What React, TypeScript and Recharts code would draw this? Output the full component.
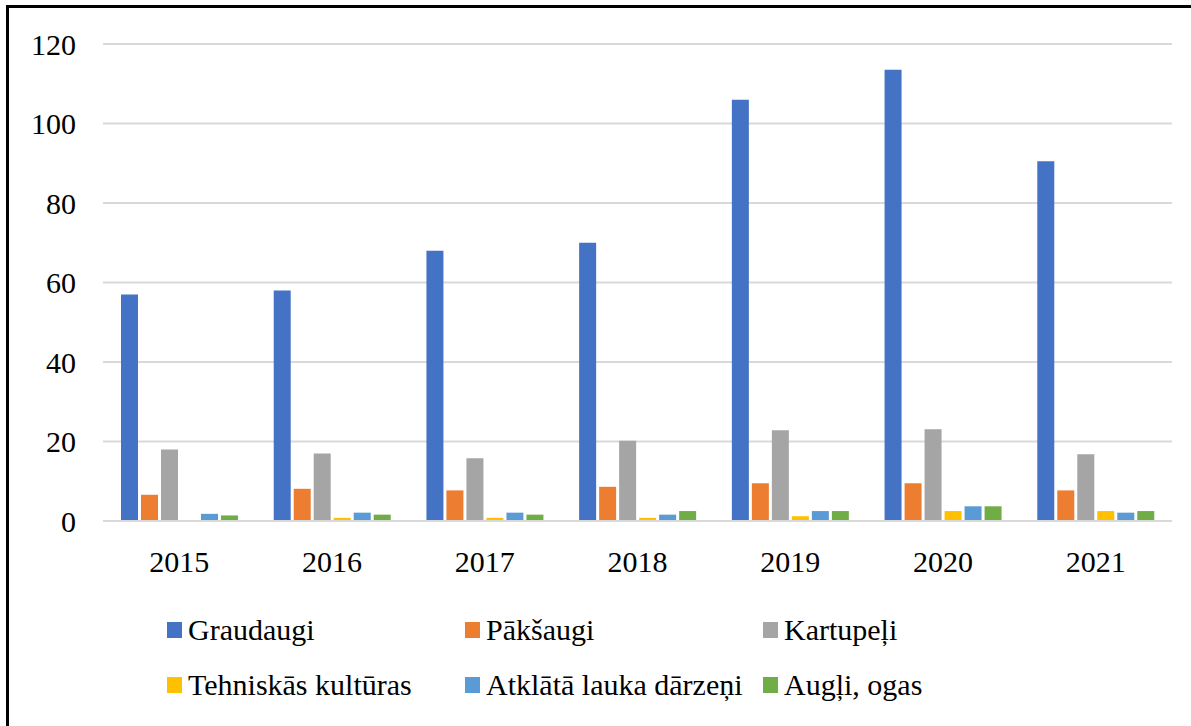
import React from 'react';
import { BarChart, Bar, XAxis, YAxis, CartesianGrid, Legend } from 'recharts';

// years on the x axis
const years = ['2015', '2016', '2017', '2018', '2019', '2020', '2021'];

// series values
const graudaugi = [57, 58, 68, 70, 106, 113.5, 90.5];
const paksaugi = [6.6, 8.1, 7.7, 8.6, 9.5, 9.5, 7.7];
const kartupeli = [18, 17, 15.8, 20.2, 22.8, 23.1, 16.8];
const tehniskas = [0, 0.8, 0.8, 0.8, 1.2, 2.5, 2.5];
const darzeni = [1.8, 2.1, 2.1, 1.6, 2.5, 3.7, 2.1];
const augli = [1.4, 1.6, 1.6, 2.5, 2.5, 3.7, 2.5];

const yTicks = [0, 20, 40, 60, 80, 100, 120];

const series = [
  { key: 'g', name: 'Graudaugi', color: '#4472C4', values: graudaugi },
  { key: 'p', name: 'Pākšaugi', color: '#ED7D31', values: paksaugi },
  { key: 'k', name: 'Kartupeļi', color: '#A5A5A5', values: kartupeli },
  { key: 't', name: 'Tehniskās kultūras', color: '#FFC000', values: tehniskas },
  { key: 'd', name: 'Atklātā lauka dārzeņi', color: '#5B9BD5', values: darzeni },
  { key: 'a', name: 'Augļi, ogas', color: '#70AD47', values: augli },
];

const data = years.map((year, i) => {
  const row: Record<string, string | number> = { year };
  series.forEach(s => {
    row[s.key] = s.values[i];
  });
  return row;
});

const font = 'Liberation Serif, DejaVu Serif';

function LegendGrid() {
  return (
    <div
      style={{
        display: 'grid',
        gridTemplateColumns: '298px 298px 298px',
        gridAutoRows: '55px',
        fontFamily: font,
        fontSize: 30,
        color: '#000',
      }}
    >
      {series.map(s => (
        <div key={s.key} style={{ display: 'flex', alignItems: 'center', whiteSpace: 'nowrap' }}>
          <span
            style={{ display: 'inline-block', width: 15, height: 16, background: s.color, marginRight: 6 }}
          />
          <span>{s.name}</span>
        </div>
      ))}
    </div>
  );
}

export default function App() {
  return (
    <div
      style={{
        position: 'absolute',
        left: 0,
        top: 0,
        width: 1191,
        height: 726,
        background: '#fff',
        overflow: 'hidden',
      }}
    >
      <div
        style={{
          position: 'absolute',
          left: 6,
          top: 5,
          width: 1200,
          height: 760,
          borderLeft: '3px solid #000',
          borderTop: '3px solid #000',
        }}
      />
      <div style={{ position: 'absolute', left: 0, top: 0 }}>
        <BarChart
          width={1191}
          height={726}
          data={data}
          margin={{ top: 44, right: 19, left: 0, bottom: 0 }}
          barSize={17}
          barGap={3}
        >
          <CartesianGrid vertical={false} stroke="#d9d9d9" strokeWidth={2} />
          <XAxis
            dataKey="year"
            height={205}
            tickLine={false}
            tickSize={0}
            tickMargin={30}
            axisLine={{ stroke: '#d9d9d9', strokeWidth: 2 }}
            tick={{ fontFamily: font, fontSize: 30, fill: '#000' }}
          />
          <YAxis
            width={103}
            domain={[0, 120]}
            ticks={yTicks}
            axisLine={false}
            tickLine={false}
            tickSize={0}
            tickMargin={27}
            tick={{ fontFamily: font, fontSize: 30, fill: '#000' }}
          />
          <Legend
            layout="horizontal"
            verticalAlign="middle"
            content={() => <LegendGrid />}
            wrapperStyle={{ top: 602, left: 167, width: 900 }}
          />
          {series.map(s => (
            <Bar key={s.key} dataKey={s.key} name={s.name} fill={s.color} isAnimationActive={false} />
          ))}
        </BarChart>
      </div>
    </div>
  );
}
